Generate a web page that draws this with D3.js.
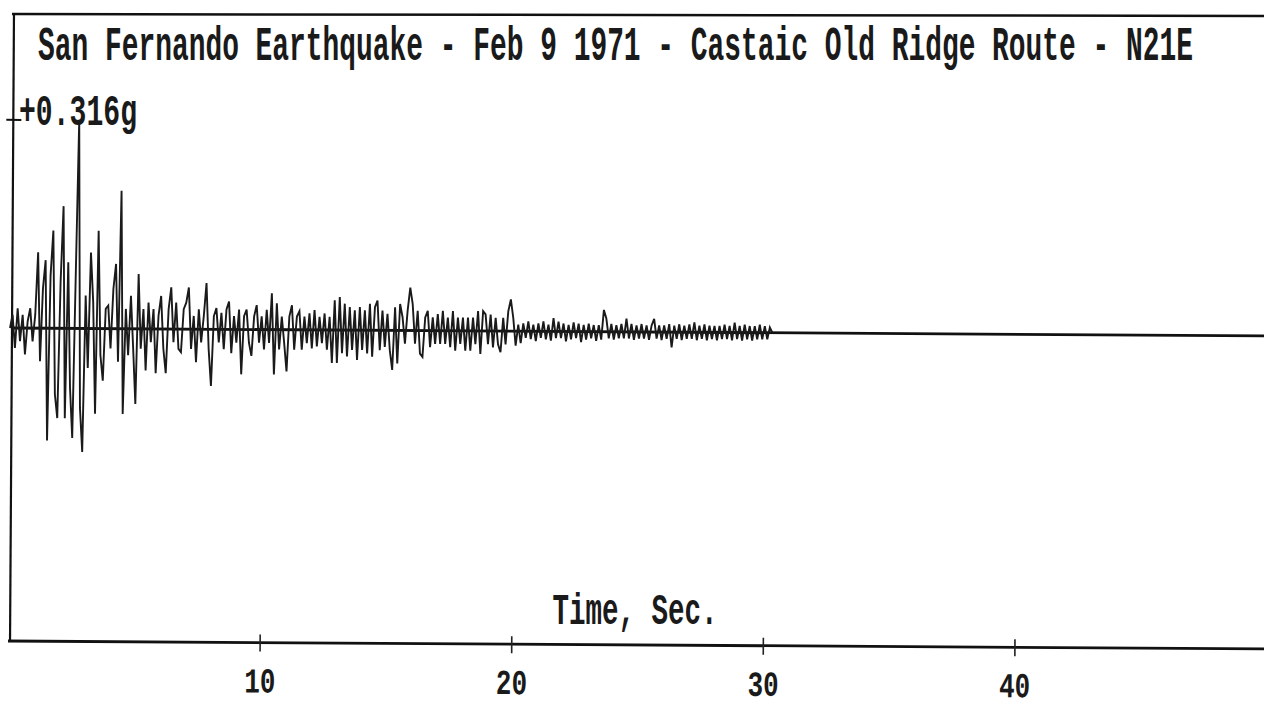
<!DOCTYPE html>
<html><head><meta charset="utf-8">
<script src="https://cdn.jsdelivr.net/npm/d3@7"></script>
<style>body{margin:0;background:#fff;overflow:hidden}</style></head>
<body><svg id="c" width="1264" height="701"></svg>
<script>
const title = "San Fernando Earthquake - Feb 9 1971 - Castaic Old Ridge Route - N21E";
const peakLabel = "+0.316g";
const peakValue = 0.316;
const xLabel = "Time, Sec.";
const xTicks = [10, 20, 30, 40];
const xDomain = [0, 50];
const sampleStep = 0.1; // seconds between samples
// acceleration (g), one row per second
const accel = [
  0.00, 0.02, -0.03, 0.03, -0.02, 0.02, -0.04, 0.01, 0.03, -0.02,
  0.02, 0.115, -0.05, 0.06, 0.103, -0.17, 0.08, 0.148, -0.10, -0.136,
  0.07, 0.185, -0.136, 0.10, -0.09, -0.166, 0.08, 0.316, -0.12, -0.187,
  0.05, -0.06, 0.115, 0.04, -0.129, 0.148, -0.04, -0.079, 0.03, 0.035,
  -0.03, 0.06, 0.098, -0.05, 0.209, -0.129, 0.03, -0.04, 0.05, -0.03,
  -0.114, 0.083, -0.03, 0.03, -0.063, 0.04, -0.02, 0.03, -0.067, 0.02,
  0.05, -0.03, -0.067, 0.03, 0.063, -0.02, 0.04, -0.03, -0.035, 0.03,
  0.04, 0.063, -0.03, 0.02, -0.05, 0.03, -0.02, 0.02, 0.07, -0.03,
  -0.086, 0.02, 0.032, -0.02, 0.025, -0.03, 0.03, 0.042, -0.036, 0.02,
  -0.02, 0.03, -0.068, 0.02, 0.03, -0.02, -0.04, 0.02, 0.037, -0.02,
  0.02, -0.03, 0.03, -0.02, 0.055, -0.068, 0.04, -0.03, 0.02, -0.02,
  -0.063, 0.02, 0.037, -0.03, 0.02, 0.028, -0.03, 0.02, -0.02, 0.025,
  -0.028, 0.03, -0.025, 0.02, -0.02, 0.025, -0.03, 0.02, -0.05, 0.045,
  -0.05, 0.05, -0.035, 0.04, -0.04, 0.035, -0.03, 0.03, -0.045, 0.035,
  -0.03, 0.03, -0.035, 0.04, -0.04, 0.035, 0.045, -0.03, 0.03, -0.025,
  0.025, -0.03, -0.06, 0.035, -0.05, 0.04, 0.02, -0.02, 0.03, 0.065,
  0.04, -0.02, 0.03, -0.035, -0.04, 0.02, 0.03, -0.025, 0.02, -0.02,
  0.025, -0.02, 0.03, -0.02, 0.02, -0.025, 0.03, -0.03, 0.02, -0.02,
  0.02, -0.03, 0.02, -0.03, 0.02, -0.02, 0.03, -0.035, 0.03, 0.025,
  -0.02, 0.025, -0.025, 0.02, -0.02, -0.032, 0.02, -0.02, 0.03, 0.048,
  0.02, -0.022, 0.01, -0.018, 0.012, -0.01, 0.015, -0.012, 0.01, -0.015,
  0.012, -0.01, 0.015, -0.012, 0.01, -0.014, 0.02, -0.01, 0.015, -0.01,
  0.012, -0.015, 0.01, -0.012, 0.014, -0.01, 0.012, -0.016, 0.01, -0.012,
  0.012, -0.01, 0.01, -0.014, 0.01, -0.012, 0.033, 0.02, -0.01, 0.012,
  -0.012, 0.01, -0.01, 0.012, -0.01, 0.02, -0.01, 0.012, -0.012, 0.01,
  -0.01, 0.012, -0.01, 0.01, -0.012, 0.01, 0.02, -0.01, 0.01, -0.012,
  0.01, -0.01, 0.012, -0.023, 0.01, -0.01, 0.012, -0.012, 0.01, -0.01,
  0.012, -0.01, 0.015, -0.012, 0.01, -0.01, 0.012, -0.012, 0.01, -0.01,
  0.01, -0.012, 0.01, -0.01, 0.012, -0.01, 0.01, -0.012, 0.015, -0.01,
  0.01, -0.012, 0.012, -0.01, 0.01, -0.012, 0.01, -0.01, 0.012, -0.01,
  0.01, -0.01, 0.008, 0.0
];

const W = 1264, H = 701;
const svg = d3.select("#c");
svg.append("rect").attr("width", W).attr("height", H).attr("fill", "#fff");

const plotLeft = 12, plotTop = 15, plotBottom = 641;
const x = d3.scaleLinear().domain(xDomain).range([10, 1268]);
const yMax = peakValue * 1.5;
const y = d3.scaleLinear().domain([-yMax, yMax]).range([plotBottom, plotTop]);

const fontFam = "'Liberation Mono', 'DejaVu Sans Mono', monospace";

// top frame line (not rotated)
svg.append("line").attr("x1", plotLeft).attr("x2", W).attr("y1", 14).attr("y2", 16)
  .attr("stroke", "#111").attr("stroke-width", 2.5);

// title
svg.append("text").text(title)
  .attr("transform", "translate(38,60) scale(1,1.7)")
  .attr("textLength", 1155).attr("lengthAdjust", "spacingAndGlyphs")
  .attr("font-family", fontFam).attr("font-weight", "bold").attr("font-size", 28)
  .attr("fill", "#1a1a1a");

const g = svg.append("g").attr("transform", `rotate(0.36, ${plotLeft}, ${y(0)})`);

// left axis line
g.append("line").attr("x1", plotLeft).attr("x2", plotLeft).attr("y1", plotTop).attr("y2", plotBottom)
  .attr("stroke", "#111").attr("stroke-width", 2.2);

// peak tick on y axis
const yAxis = d3.axisLeft(y).tickValues([peakValue]).tickSize(8).tickFormat("");
const ya = g.append("g").attr("transform", `translate(${plotLeft},0)`).call(yAxis);
ya.select(".domain").remove();
ya.selectAll(".tick line").attr("x1", -7).attr("x2", 8).attr("stroke", "#111").attr("stroke-width", 2);
svg.append("text").text(peakLabel)
  .attr("transform", `translate(19,${y(peakValue) + 6}) scale(1,1.6)`)
  .attr("textLength", 118).attr("lengthAdjust", "spacingAndGlyphs")
  .attr("font-family", fontFam).attr("font-weight", "bold").attr("font-size", 28)
  .attr("fill", "#1a1a1a");

// zero baseline
g.append("line").attr("x1", plotLeft).attr("x2", W + 20).attr("y1", y(0)).attr("y2", y(0))
  .attr("stroke", "#111").attr("stroke-width", 2.8);

// trace
const line = d3.line().x((d, i) => x(i * sampleStep)).y(d => y(d));
g.append("path").datum(accel).attr("d", line)
  .attr("fill", "none").attr("stroke", "#1a1a1a").attr("stroke-width", 1.9)
  .attr("stroke-linejoin", "miter");

// x axis
const xAxis = d3.axisBottom(x).tickValues(xTicks).tickSize(9).tickPadding(10).tickFormat(d3.format("d"));
const xa = g.append("g").attr("transform", `translate(0,${plotBottom})`).call(xAxis);
xa.select(".domain").attr("d", `M${plotLeft - 2},0H${W + 20}`).attr("stroke", "#111").attr("stroke-width", 2.8);
xa.selectAll(".tick line").attr("y1", -8).attr("y2", 9).attr("stroke", "#222").attr("stroke-width", 1.6);
xa.selectAll(".tick text").attr("font-family", fontFam).attr("font-weight", "bold")
  .attr("font-size", 26).attr("fill", "#1a1a1a").attr("dy", 0)
  .attr("y", 0)
  .attr("transform", "translate(0,50) scale(1,1.35)");

// x label
svg.append("text").text(xLabel)
  .attr("transform", "translate(635,624) scale(1,1.6)")
  .attr("text-anchor", "middle")
  .attr("textLength", 165).attr("lengthAdjust", "spacingAndGlyphs")
  .attr("font-family", fontFam).attr("font-weight", "bold").attr("font-size", 28)
  .attr("fill", "#1a1a1a");
</script>
</body></html>
